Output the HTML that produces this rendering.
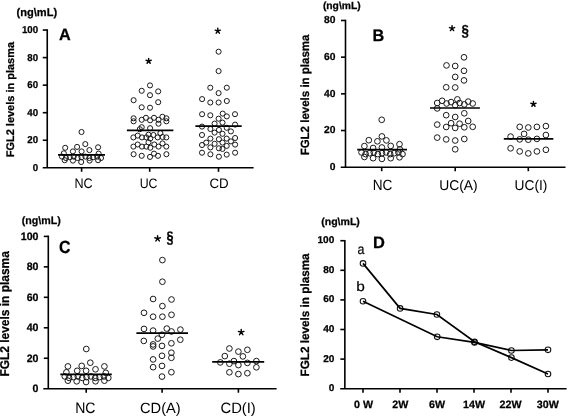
<!DOCTYPE html>
<html><head><meta charset="utf-8"><style>
html,body{margin:0;padding:0;background:#fff;overflow:hidden;}
svg{display:block;will-change:transform;}
text{font-family:"Liberation Sans", sans-serif;fill:#000;text-rendering:geometricPrecision;}
text[font-weight=bold]{stroke:#000;stroke-width:0.25px;}
</style></head><body>
<svg width="568" height="416" viewBox="0 0 568 416">
<rect width="568" height="416" fill="#fff"/>
<g fill="none" stroke="#1a1a1a" stroke-width="1.0"><circle cx="81.5" cy="132.0" r="2.55"/><circle cx="85.3" cy="144.1" r="2.55"/><circle cx="65.2" cy="147.8" r="2.55"/><circle cx="77.1" cy="146.9" r="2.55"/><circle cx="98.1" cy="147.3" r="2.55"/><circle cx="89.4" cy="150.1" r="2.55"/><circle cx="72.9" cy="151.4" r="2.55"/><circle cx="81.6" cy="151.4" r="2.55"/><circle cx="63.8" cy="153.3" r="2.55"/><circle cx="98.6" cy="153.6" r="2.55"/><circle cx="62.0" cy="156.6" r="2.55"/><circle cx="65.9" cy="158.0" r="2.55"/><circle cx="69.8" cy="157.2" r="2.55"/><circle cx="73.7" cy="156.6" r="2.55"/><circle cx="77.6" cy="158.0" r="2.55"/><circle cx="81.5" cy="157.2" r="2.55"/><circle cx="85.4" cy="156.6" r="2.55"/><circle cx="89.3" cy="158.0" r="2.55"/><circle cx="93.2" cy="157.2" r="2.55"/><circle cx="97.1" cy="156.6" r="2.55"/><circle cx="101.0" cy="158.0" r="2.55"/><circle cx="64.7" cy="160.2" r="2.55"/><circle cx="72.9" cy="160.6" r="2.55"/><circle cx="81.2" cy="162.0" r="2.55"/><circle cx="89.6" cy="160.6" r="2.55"/><circle cx="98.1" cy="160.2" r="2.55"/><circle cx="150.0" cy="85.4" r="2.55"/><circle cx="141.7" cy="90.8" r="2.55"/><circle cx="158.2" cy="91.4" r="2.55"/><circle cx="150.0" cy="95.2" r="2.55"/><circle cx="133.6" cy="100.2" r="2.55"/><circle cx="158.2" cy="102.2" r="2.55"/><circle cx="141.7" cy="107.3" r="2.55"/><circle cx="150.0" cy="107.7" r="2.55"/><circle cx="133.6" cy="118.3" r="2.55"/><circle cx="133.6" cy="121.3" r="2.55"/><circle cx="141.7" cy="119.8" r="2.55"/><circle cx="145.9" cy="117.8" r="2.55"/><circle cx="150.1" cy="120.3" r="2.55"/><circle cx="154.0" cy="117.8" r="2.55"/><circle cx="158.5" cy="119.8" r="2.55"/><circle cx="162.4" cy="116.8" r="2.55"/><circle cx="166.4" cy="118.3" r="2.55"/><circle cx="166.4" cy="121.3" r="2.55"/><circle cx="158.5" cy="123.7" r="2.55"/><circle cx="141.7" cy="127.2" r="2.55"/><circle cx="150.1" cy="128.2" r="2.55"/><circle cx="139.8" cy="129.2" r="2.55"/><circle cx="133.4" cy="137.4" r="2.55"/><circle cx="137.7" cy="135.6" r="2.55"/><circle cx="142.0" cy="137.4" r="2.55"/><circle cx="146.3" cy="137.4" r="2.55"/><circle cx="148.5" cy="134.7" r="2.55"/><circle cx="150.3" cy="138.5" r="2.55"/><circle cx="153.4" cy="135.0" r="2.55"/><circle cx="157.7" cy="137.4" r="2.55"/><circle cx="160.4" cy="133.1" r="2.55"/><circle cx="162.5" cy="137.0" r="2.55"/><circle cx="166.3" cy="137.4" r="2.55"/><circle cx="133.4" cy="146.6" r="2.55"/><circle cx="137.7" cy="144.5" r="2.55"/><circle cx="142.0" cy="146.6" r="2.55"/><circle cx="146.3" cy="146.6" r="2.55"/><circle cx="150.3" cy="147.7" r="2.55"/><circle cx="148.5" cy="142.3" r="2.55"/><circle cx="154.3" cy="144.5" r="2.55"/><circle cx="158.5" cy="146.6" r="2.55"/><circle cx="162.5" cy="143.4" r="2.55"/><circle cx="166.3" cy="146.6" r="2.55"/><circle cx="133.6" cy="154.2" r="2.55"/><circle cx="141.7" cy="155.8" r="2.55"/><circle cx="150.0" cy="156.9" r="2.55"/><circle cx="154.0" cy="153.6" r="2.55"/><circle cx="158.0" cy="155.8" r="2.55"/><circle cx="166.4" cy="154.2" r="2.55"/><circle cx="218.6" cy="51.7" r="2.55"/><circle cx="218.6" cy="71.1" r="2.55"/><circle cx="210.3" cy="87.7" r="2.55"/><circle cx="226.8" cy="87.7" r="2.55"/><circle cx="218.6" cy="93.1" r="2.55"/><circle cx="202.1" cy="99.1" r="2.55"/><circle cx="210.3" cy="102.5" r="2.55"/><circle cx="218.6" cy="102.5" r="2.55"/><circle cx="226.8" cy="101.0" r="2.55"/><circle cx="202.1" cy="114.2" r="2.55"/><circle cx="210.3" cy="115.3" r="2.55"/><circle cx="222.7" cy="113.6" r="2.55"/><circle cx="226.8" cy="116.4" r="2.55"/><circle cx="235.0" cy="114.2" r="2.55"/><circle cx="218.6" cy="118.7" r="2.55"/><circle cx="202.0" cy="126.6" r="2.55"/><circle cx="214.6" cy="123.6" r="2.55"/><circle cx="222.5" cy="122.6" r="2.55"/><circle cx="235.1" cy="124.6" r="2.55"/><circle cx="210.4" cy="129.0" r="2.55"/><circle cx="218.9" cy="129.9" r="2.55"/><circle cx="226.7" cy="127.8" r="2.55"/><circle cx="230.9" cy="131.4" r="2.55"/><circle cx="214.6" cy="132.6" r="2.55"/><circle cx="222.5" cy="133.8" r="2.55"/><circle cx="202.0" cy="135.0" r="2.55"/><circle cx="210.4" cy="138.6" r="2.55"/><circle cx="218.9" cy="139.2" r="2.55"/><circle cx="226.7" cy="138.6" r="2.55"/><circle cx="235.1" cy="138.0" r="2.55"/><circle cx="206.2" cy="142.6" r="2.55"/><circle cx="214.6" cy="143.8" r="2.55"/><circle cx="222.5" cy="142.6" r="2.55"/><circle cx="230.9" cy="141.4" r="2.55"/><circle cx="202.0" cy="145.0" r="2.55"/><circle cx="235.1" cy="144.6" r="2.55"/><circle cx="210.4" cy="147.4" r="2.55"/><circle cx="218.9" cy="148.3" r="2.55"/><circle cx="226.7" cy="145.9" r="2.55"/><circle cx="222.5" cy="148.9" r="2.55"/><circle cx="202.0" cy="152.7" r="2.55"/><circle cx="210.4" cy="154.3" r="2.55"/><circle cx="218.9" cy="156.7" r="2.55"/><circle cx="226.7" cy="154.6" r="2.55"/><circle cx="235.1" cy="152.7" r="2.55"/><circle cx="381.7" cy="119.8" r="2.85"/><circle cx="381.9" cy="136.4" r="2.85"/><circle cx="368.8" cy="140.2" r="2.85"/><circle cx="377.4" cy="141.3" r="2.85"/><circle cx="386.4" cy="140.4" r="2.85"/><circle cx="364.4" cy="146.1" r="2.85"/><circle cx="373.1" cy="148.0" r="2.85"/><circle cx="381.9" cy="147.5" r="2.85"/><circle cx="390.7" cy="145.9" r="2.85"/><circle cx="399.5" cy="144.2" r="2.85"/><circle cx="399.9" cy="149.4" r="2.85"/><circle cx="361.5" cy="152.4" r="2.85"/><circle cx="365.6" cy="154.1" r="2.85"/><circle cx="369.7" cy="153.2" r="2.85"/><circle cx="373.8" cy="152.4" r="2.85"/><circle cx="377.9" cy="154.1" r="2.85"/><circle cx="382.0" cy="153.2" r="2.85"/><circle cx="386.1" cy="152.4" r="2.85"/><circle cx="390.2" cy="154.1" r="2.85"/><circle cx="394.3" cy="153.2" r="2.85"/><circle cx="398.4" cy="152.4" r="2.85"/><circle cx="402.5" cy="154.1" r="2.85"/><circle cx="364.4" cy="157.0" r="2.85"/><circle cx="373.1" cy="158.2" r="2.85"/><circle cx="381.9" cy="158.9" r="2.85"/><circle cx="390.7" cy="158.2" r="2.85"/><circle cx="399.5" cy="157.3" r="2.85"/><circle cx="464.0" cy="57.3" r="2.85"/><circle cx="446.5" cy="65.4" r="2.85"/><circle cx="455.2" cy="66.0" r="2.85"/><circle cx="464.0" cy="70.8" r="2.85"/><circle cx="455.2" cy="76.9" r="2.85"/><circle cx="464.0" cy="80.4" r="2.85"/><circle cx="446.2" cy="87.3" r="2.85"/><circle cx="455.2" cy="87.5" r="2.85"/><circle cx="437.2" cy="103.0" r="2.85"/><circle cx="442.1" cy="100.8" r="2.85"/><circle cx="446.6" cy="103.5" r="2.85"/><circle cx="451.1" cy="102.1" r="2.85"/><circle cx="455.2" cy="105.2" r="2.85"/><circle cx="457.4" cy="99.4" r="2.85"/><circle cx="459.6" cy="103.0" r="2.85"/><circle cx="464.3" cy="104.4" r="2.85"/><circle cx="468.2" cy="101.6" r="2.85"/><circle cx="472.7" cy="103.5" r="2.85"/><circle cx="437.2" cy="108.4" r="2.85"/><circle cx="446.2" cy="115.2" r="2.85"/><circle cx="455.2" cy="117.0" r="2.85"/><circle cx="464.3" cy="113.3" r="2.85"/><circle cx="437.2" cy="124.6" r="2.85"/><circle cx="446.2" cy="127.0" r="2.85"/><circle cx="451.1" cy="123.2" r="2.85"/><circle cx="455.2" cy="127.9" r="2.85"/><circle cx="459.6" cy="123.7" r="2.85"/><circle cx="464.3" cy="127.3" r="2.85"/><circle cx="468.2" cy="121.0" r="2.85"/><circle cx="472.7" cy="126.8" r="2.85"/><circle cx="437.2" cy="137.6" r="2.85"/><circle cx="446.2" cy="139.4" r="2.85"/><circle cx="455.2" cy="140.5" r="2.85"/><circle cx="464.3" cy="139.0" r="2.85"/><circle cx="455.2" cy="149.3" r="2.85"/><circle cx="519.7" cy="126.9" r="2.85"/><circle cx="528.3" cy="127.5" r="2.85"/><circle cx="536.9" cy="126.9" r="2.85"/><circle cx="545.9" cy="126.1" r="2.85"/><circle cx="524.1" cy="133.9" r="2.85"/><circle cx="545.9" cy="135.0" r="2.85"/><circle cx="510.6" cy="136.6" r="2.85"/><circle cx="519.7" cy="139.4" r="2.85"/><circle cx="528.3" cy="139.7" r="2.85"/><circle cx="536.9" cy="138.9" r="2.85"/><circle cx="510.6" cy="148.3" r="2.85"/><circle cx="519.7" cy="151.4" r="2.85"/><circle cx="528.3" cy="153.4" r="2.85"/><circle cx="536.9" cy="151.4" r="2.85"/><circle cx="545.9" cy="149.8" r="2.85"/><circle cx="86.3" cy="349.0" r="2.85"/><circle cx="90.3" cy="362.7" r="2.85"/><circle cx="67.9" cy="366.4" r="2.85"/><circle cx="81.7" cy="365.9" r="2.85"/><circle cx="104.4" cy="366.4" r="2.85"/><circle cx="95.5" cy="369.3" r="2.85"/><circle cx="77.2" cy="370.8" r="2.85"/><circle cx="86.1" cy="370.8" r="2.85"/><circle cx="66.4" cy="372.3" r="2.85"/><circle cx="105.8" cy="372.8" r="2.85"/><circle cx="64.8" cy="376.4" r="2.85"/><circle cx="69.1" cy="377.9" r="2.85"/><circle cx="73.5" cy="377.1" r="2.85"/><circle cx="77.8" cy="376.4" r="2.85"/><circle cx="82.2" cy="377.9" r="2.85"/><circle cx="86.5" cy="377.1" r="2.85"/><circle cx="90.9" cy="376.4" r="2.85"/><circle cx="95.2" cy="377.9" r="2.85"/><circle cx="99.6" cy="377.1" r="2.85"/><circle cx="103.9" cy="376.4" r="2.85"/><circle cx="108.3" cy="377.9" r="2.85"/><circle cx="67.9" cy="380.7" r="2.85"/><circle cx="76.7" cy="381.3" r="2.85"/><circle cx="86.1" cy="382.0" r="2.85"/><circle cx="95.5" cy="381.3" r="2.85"/><circle cx="104.4" cy="380.7" r="2.85"/><circle cx="162.4" cy="260.1" r="2.85"/><circle cx="162.4" cy="281.7" r="2.85"/><circle cx="153.1" cy="299.0" r="2.85"/><circle cx="171.5" cy="299.5" r="2.85"/><circle cx="162.4" cy="306.1" r="2.85"/><circle cx="144.0" cy="312.8" r="2.85"/><circle cx="153.1" cy="316.7" r="2.85"/><circle cx="162.4" cy="316.7" r="2.85"/><circle cx="171.5" cy="314.8" r="2.85"/><circle cx="144.0" cy="328.9" r="2.85"/><circle cx="153.1" cy="330.6" r="2.85"/><circle cx="166.8" cy="328.6" r="2.85"/><circle cx="171.5" cy="331.5" r="2.85"/><circle cx="180.4" cy="329.6" r="2.85"/><circle cx="162.0" cy="334.7" r="2.85"/><circle cx="157.8" cy="338.6" r="2.85"/><circle cx="143.8" cy="340.9" r="2.85"/><circle cx="180.3" cy="339.7" r="2.85"/><circle cx="171.4" cy="343.3" r="2.85"/><circle cx="153.1" cy="344.4" r="2.85"/><circle cx="153.1" cy="346.4" r="2.85"/><circle cx="162.0" cy="345.9" r="2.85"/><circle cx="171.4" cy="352.7" r="2.85"/><circle cx="162.0" cy="355.8" r="2.85"/><circle cx="171.4" cy="357.8" r="2.85"/><circle cx="153.1" cy="359.4" r="2.85"/><circle cx="153.1" cy="367.2" r="2.85"/><circle cx="162.0" cy="365.9" r="2.85"/><circle cx="171.4" cy="372.2" r="2.85"/><circle cx="162.0" cy="376.6" r="2.85"/><circle cx="229.4" cy="348.5" r="2.85"/><circle cx="238.4" cy="351.6" r="2.85"/><circle cx="247.4" cy="349.8" r="2.85"/><circle cx="224.8" cy="356.1" r="2.85"/><circle cx="242.9" cy="356.4" r="2.85"/><circle cx="233.9" cy="361.1" r="2.85"/><circle cx="220.3" cy="362.4" r="2.85"/><circle cx="229.4" cy="363.7" r="2.85"/><circle cx="238.4" cy="365.1" r="2.85"/><circle cx="247.4" cy="362.9" r="2.85"/><circle cx="256.4" cy="361.1" r="2.85"/><circle cx="256.4" cy="367.3" r="2.85"/><circle cx="229.4" cy="372.3" r="2.85"/><circle cx="238.4" cy="374.1" r="2.85"/><circle cx="247.4" cy="373.2" r="2.85"/></g>
<g stroke="#000" stroke-width="1.7"><line x1="58" y1="154.8" x2="105" y2="154.8"/><line x1="126.9" y1="130.4" x2="173.4" y2="130.4"/><line x1="195.4" y1="126.2" x2="241.7" y2="126.2"/><line x1="357.2" y1="149.7" x2="407" y2="149.7"/><line x1="430" y1="108" x2="479.9" y2="108"/><line x1="503.8" y1="138.9" x2="553.3" y2="138.9"/><line x1="60.3" y1="374.4" x2="111.8" y2="374.4"/><line x1="136.4" y1="333.2" x2="188" y2="333.2"/><line x1="212.2" y1="361.9" x2="264.2" y2="361.9"/></g>
<g fill="none" stroke="#111" stroke-width="1.05"><circle cx="363" cy="263.4" r="2.8"/><circle cx="400.1" cy="308.4" r="2.8"/><circle cx="436.9" cy="314.5" r="2.8"/><circle cx="474.5" cy="341.8" r="2.8"/><circle cx="511.4" cy="357.6" r="2.8"/><circle cx="548" cy="374" r="2.8"/><circle cx="363" cy="301.2" r="2.8"/><circle cx="437.2" cy="336.8" r="2.8"/><circle cx="474.5" cy="342.4" r="2.8"/><circle cx="511.4" cy="350.5" r="2.8"/><circle cx="548" cy="349.8" r="2.8"/></g>
<polyline points="363,263.4 400.1,308.4 436.9,314.5 474.5,341.8 511.4,357.6 548,374" fill="none" stroke="#000" stroke-width="1.7"/><polyline points="363,301.2 437.2,336.8 474.5,342.4 511.4,350.5 548,349.8" fill="none" stroke="#000" stroke-width="1.7"/>
<g stroke="#000"><line x1="47.25" y1="29.25" x2="47.25" y2="167.8" stroke-width="1.6"/><line x1="42.7" y1="167.8" x2="253.6" y2="167.8" stroke-width="1.6"/><line x1="42.75" y1="140.25" x2="47.25" y2="140.25" stroke-width="1.6"/><line x1="42.75" y1="112.70" x2="47.25" y2="112.70" stroke-width="1.6"/><line x1="42.75" y1="85.15" x2="47.25" y2="85.15" stroke-width="1.6"/><line x1="42.75" y1="57.60" x2="47.25" y2="57.60" stroke-width="1.6"/><line x1="42.75" y1="30.05" x2="47.25" y2="30.05" stroke-width="1.6"/><line x1="81.6" y1="167.8" x2="81.6" y2="171.80" stroke-width="1.6"/><line x1="149.7" y1="167.8" x2="149.7" y2="171.80" stroke-width="1.6"/><line x1="218.5" y1="167.8" x2="218.5" y2="171.80" stroke-width="1.6"/><line x1="345.5" y1="19.68" x2="345.5" y2="167.2" stroke-width="1.6"/><line x1="340.7" y1="167.2" x2="565.5" y2="167.2" stroke-width="1.6"/><line x1="341.00" y1="130.52" x2="345.5" y2="130.52" stroke-width="1.6"/><line x1="341.00" y1="93.84" x2="345.5" y2="93.84" stroke-width="1.6"/><line x1="341.00" y1="57.16" x2="345.5" y2="57.16" stroke-width="1.6"/><line x1="341.00" y1="20.48" x2="345.5" y2="20.48" stroke-width="1.6"/><line x1="381.7" y1="167.2" x2="381.7" y2="171.20" stroke-width="1.6"/><line x1="455.2" y1="167.2" x2="455.2" y2="171.20" stroke-width="1.6"/><line x1="528.3" y1="167.2" x2="528.3" y2="171.20" stroke-width="1.6"/><line x1="48.3" y1="235.60" x2="48.3" y2="388.7" stroke-width="1.6"/><line x1="43.3" y1="388.7" x2="276.6" y2="388.7" stroke-width="1.6"/><line x1="43.80" y1="358.24" x2="48.3" y2="358.24" stroke-width="1.6"/><line x1="43.80" y1="327.78" x2="48.3" y2="327.78" stroke-width="1.6"/><line x1="43.80" y1="297.32" x2="48.3" y2="297.32" stroke-width="1.6"/><line x1="43.80" y1="266.86" x2="48.3" y2="266.86" stroke-width="1.6"/><line x1="43.80" y1="236.40" x2="48.3" y2="236.40" stroke-width="1.6"/><line x1="86.2" y1="388.7" x2="86.2" y2="392.70" stroke-width="1.6"/><line x1="162.1" y1="388.7" x2="162.1" y2="392.70" stroke-width="1.6"/><line x1="238.4" y1="388.7" x2="238.4" y2="392.70" stroke-width="1.6"/><line x1="344.85" y1="239.90" x2="344.85" y2="388.7" stroke-width="1.6"/><line x1="340.2" y1="388.7" x2="566.6" y2="388.7" stroke-width="1.6"/><line x1="340.35" y1="359.10" x2="344.85" y2="359.10" stroke-width="1.6"/><line x1="340.35" y1="329.50" x2="344.85" y2="329.50" stroke-width="1.6"/><line x1="340.35" y1="299.90" x2="344.85" y2="299.90" stroke-width="1.6"/><line x1="340.35" y1="270.30" x2="344.85" y2="270.30" stroke-width="1.6"/><line x1="340.35" y1="240.70" x2="344.85" y2="240.70" stroke-width="1.6"/><line x1="363" y1="388.7" x2="363" y2="392.70" stroke-width="1.6"/><line x1="400" y1="388.7" x2="400" y2="392.70" stroke-width="1.6"/><line x1="437" y1="388.7" x2="437" y2="392.70" stroke-width="1.6"/><line x1="474" y1="388.7" x2="474" y2="392.70" stroke-width="1.6"/><line x1="511" y1="388.7" x2="511" y2="392.70" stroke-width="1.6"/><line x1="548" y1="388.7" x2="548" y2="392.70" stroke-width="1.6"/></g>
<path d="M148.65,61.10L148.65,58.40M148.65,61.10L151.22,60.27M148.65,61.10L150.24,63.28M148.65,61.10L147.06,63.28M148.65,61.10L146.08,60.27" stroke="#000" stroke-width="1.45" fill="none" stroke-linecap="round"/><path d="M217.80,31.00L217.80,28.30M217.80,31.00L220.37,30.17M217.80,31.00L219.39,33.18M217.80,31.00L216.21,33.18M217.80,31.00L215.23,30.17" stroke="#000" stroke-width="1.45" fill="none" stroke-linecap="round"/><path d="M452.05,28.40L452.05,25.70M452.05,28.40L454.62,27.57M452.05,28.40L453.64,30.58M452.05,28.40L450.46,30.58M452.05,28.40L449.48,27.57" stroke="#000" stroke-width="1.45" fill="none" stroke-linecap="round"/><path d="M533.45,104.10L533.45,101.40M533.45,104.10L536.02,103.27M533.45,104.10L535.04,106.28M533.45,104.10L531.86,106.28M533.45,104.10L530.88,103.27" stroke="#000" stroke-width="1.45" fill="none" stroke-linecap="round"/><path d="M157.60,238.60L157.60,235.70M157.60,238.60L160.36,237.70M157.60,238.60L159.30,240.95M157.60,238.60L155.90,240.95M157.60,238.60L154.84,237.70" stroke="#000" stroke-width="1.45" fill="none" stroke-linecap="round"/><path d="M241.20,332.30L241.20,329.40M241.20,332.30L243.96,331.40M241.20,332.30L242.90,334.65M241.20,332.30L239.50,334.65M241.20,332.30L238.44,331.40" stroke="#000" stroke-width="1.45" fill="none" stroke-linecap="round"/>
<text transform="translate(32.75,170.84) scale(0.9700,1)" font-size="10.00" font-weight="bold">0</text>
<text transform="translate(27.36,143.29) scale(0.9700,1)" font-size="10.00" font-weight="bold">20</text>
<text transform="translate(27.36,115.74) scale(0.9700,1)" font-size="10.00" font-weight="bold">40</text>
<text transform="translate(27.36,88.19) scale(0.9700,1)" font-size="10.00" font-weight="bold">60</text>
<text transform="translate(27.36,60.64) scale(0.9700,1)" font-size="10.00" font-weight="bold">80</text>
<text transform="translate(21.97,33.09) scale(0.9700,1)" font-size="10.00" font-weight="bold">100</text>
<text transform="translate(16.55,16.42) scale(0.9885,1)" font-size="11.21" font-weight="bold">(ng\mL)</text>
<text transform="translate(58.89,40.30) scale(0.9890,1)" font-size="16.42" font-weight="bold">A</text>
<text transform="translate(13.90,157.24) rotate(-90) scale(1,1.0067)" font-size="10.97" font-weight="bold">FGL2 levels in plasma</text>
<text transform="translate(74.47,187.66) scale(0.9112,1)" font-size="13.84">NC</text>
<text transform="translate(139.65,187.56) scale(0.9007,1)" font-size="13.70">UC</text>
<text transform="translate(209.42,187.66) scale(0.9714,1)" font-size="13.70">CD</text>
<text transform="translate(329.80,170.01) scale(1.0098,1)" font-size="10.20" font-weight="bold">0</text>
<text transform="translate(324.07,133.33) scale(1.0098,1)" font-size="10.20" font-weight="bold">20</text>
<text transform="translate(324.07,96.65) scale(1.0098,1)" font-size="10.20" font-weight="bold">40</text>
<text transform="translate(324.07,59.97) scale(1.0098,1)" font-size="10.20" font-weight="bold">60</text>
<text transform="translate(324.07,23.29) scale(1.0098,1)" font-size="10.20" font-weight="bold">80</text>
<text transform="translate(322.89,8.83) scale(1.0045,1)" font-size="10.25" font-weight="bold">(ng\mL)</text>
<text transform="translate(372.61,40.50) scale(0.9709,1)" font-size="16.72" font-weight="bold">B</text>
<text transform="translate(309.20,155.37) rotate(-90) scale(1,1.0356)" font-size="11.51" font-weight="bold">FGL2 levels in plasma</text>
<text transform="translate(372.79,190.45) scale(0.9167,1)" font-size="14.83">NC</text>
<text transform="translate(439.13,190.37) scale(0.9796,1)" font-size="14.16">UC(A)</text>
<text transform="translate(514.54,190.27) scale(0.9732,1)" font-size="14.16">UC(I)</text>
<text transform="translate(461.56,35.73) scale(0.8384,1)" font-size="15.82" font-weight="bold">§</text>
<text transform="translate(32.54,392.32) scale(0.9815,1)" font-size="10.80" font-weight="bold">0</text>
<text transform="translate(26.65,361.86) scale(0.9815,1)" font-size="10.80" font-weight="bold">20</text>
<text transform="translate(26.65,331.40) scale(0.9815,1)" font-size="10.80" font-weight="bold">40</text>
<text transform="translate(26.65,300.94) scale(0.9815,1)" font-size="10.80" font-weight="bold">60</text>
<text transform="translate(26.65,270.48) scale(0.9815,1)" font-size="10.80" font-weight="bold">80</text>
<text transform="translate(20.75,240.02) scale(0.9815,1)" font-size="10.80" font-weight="bold">100</text>
<text transform="translate(21.67,223.51) scale(0.9912,1)" font-size="10.78" font-weight="bold">(ng\mL)</text>
<text transform="translate(58.95,253.02) scale(0.9007,1)" font-size="17.66" font-weight="bold">C</text>
<text transform="translate(8.80,376.60) rotate(-90) scale(1,1.0713)" font-size="11.94" font-weight="bold">FGL2 levels in plasma</text>
<text transform="translate(75.15,412.65) scale(0.9296,1)" font-size="15.11">NC</text>
<text transform="translate(140.05,412.63) scale(0.9887,1)" font-size="14.81">CD(A)</text>
<text transform="translate(220.44,412.69) scale(0.9861,1)" font-size="15.02">CD(I)</text>
<text transform="translate(166.57,242.73) scale(0.7582,1)" font-size="16.69" font-weight="bold">§</text>
<text transform="translate(328.75,391.21) scale(1.0202,1)" font-size="9.90" font-weight="bold">0</text>
<text transform="translate(323.13,361.61) scale(1.0202,1)" font-size="9.90" font-weight="bold">20</text>
<text transform="translate(323.13,332.01) scale(1.0202,1)" font-size="9.90" font-weight="bold">40</text>
<text transform="translate(323.13,302.41) scale(1.0202,1)" font-size="9.90" font-weight="bold">60</text>
<text transform="translate(323.13,272.81) scale(1.0202,1)" font-size="9.90" font-weight="bold">80</text>
<text transform="translate(317.52,243.21) scale(1.0202,1)" font-size="9.90" font-weight="bold">100</text>
<text transform="translate(321.17,225.41) scale(1.0212,1)" font-size="10.35" font-weight="bold">(ng\mL)</text>
<text transform="translate(373.00,248.20) scale(1.0032,1)" font-size="16.42" font-weight="bold">D</text>
<text transform="translate(309.30,376.49) rotate(-90) scale(1,1.0285)" font-size="11.73" font-weight="bold">FGL2 levels in plasma</text>
<text x="363.50" y="407.6" font-size="10.7" font-weight="bold" text-anchor="middle">0 W</text>
<text x="400.35" y="407.6" font-size="10.7" font-weight="bold" text-anchor="middle">2W</text>
<text x="437.10" y="407.6" font-size="10.7" font-weight="bold" text-anchor="middle">6W</text>
<text x="474.10" y="407.6" font-size="10.7" font-weight="bold" text-anchor="middle">14W</text>
<text x="510.60" y="407.6" font-size="10.7" font-weight="bold" text-anchor="middle">22W</text>
<text x="547.85" y="407.6" font-size="10.7" font-weight="bold" text-anchor="middle">30W</text>
<text stroke="#000" stroke-width="0.22" transform="translate(357.38,254.16) scale(0.8861,1)" font-size="14.05">a</text>
<text stroke="#000" stroke-width="0.18" transform="translate(356.20,290.96) scale(1.1295,1)" font-size="13.61">b</text>
</svg>
</body></html>
